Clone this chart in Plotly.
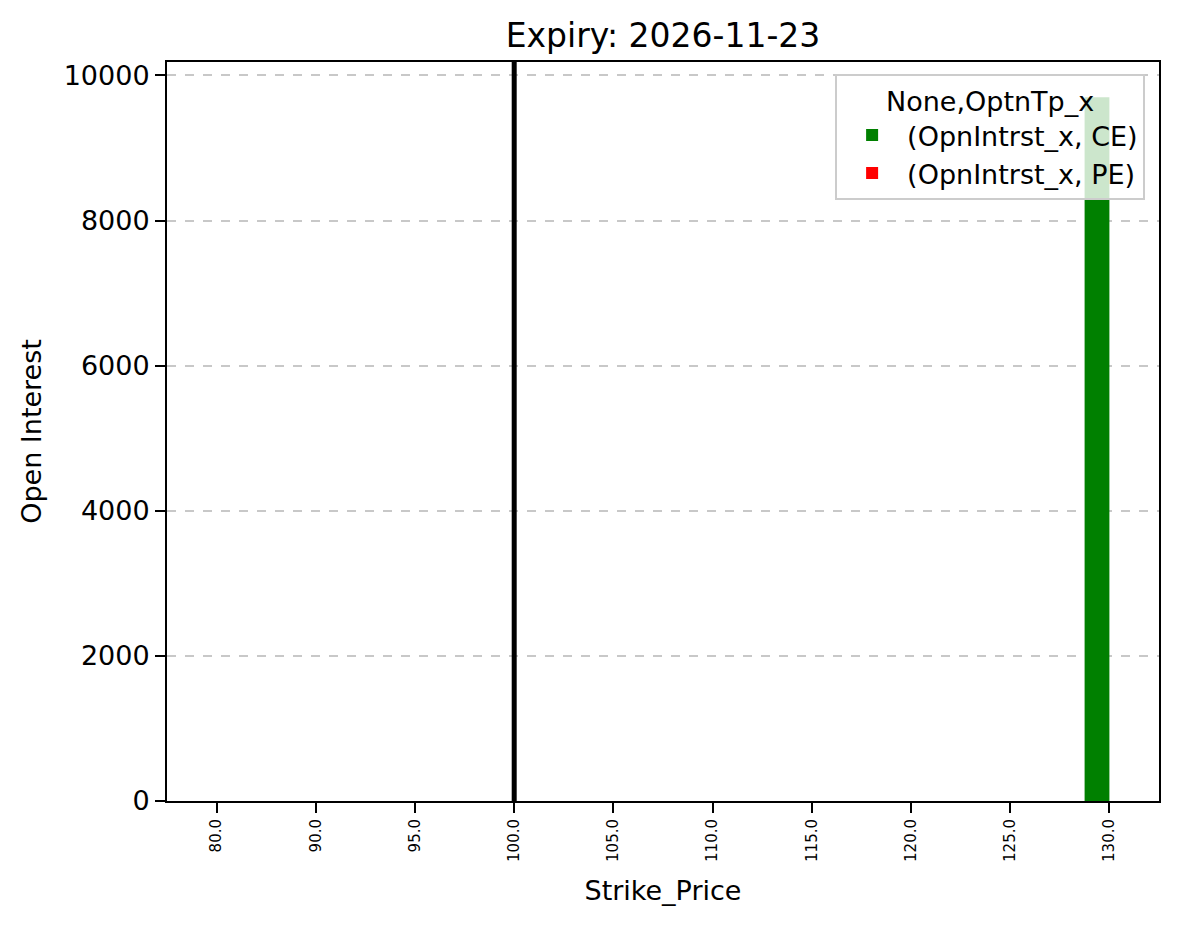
import plotly.graph_objects as go

# Strike prices (categorical x axis) and open interest per option type
strikes = [80.0, 90.0, 95.0, 100.0, 105.0, 110.0, 115.0, 120.0, 125.0, 130.0]
ce_oi = [0, 0, 0, 0, 0, 0, 0, 0, 0, 9700]
pe_oi = [0, 0, 0, 0, 0, 0, 0, 0, 0, 0]
spot_price = 100.0
expiry = "2026-11-23"
y_ticks = [0, 2000, 4000, 6000, 8000, 10000]

tick_labels = [f"{s:.1f}" for s in strikes]
idx = list(range(len(strikes)))
font_family = "DejaVu Sans, sans-serif"

# page body has an 8px margin, so the figure is shrunk to fit the window
W, H = 1171, 920

fig = go.Figure()

fig.add_trace(
    go.Bar(
        x=idx,
        y=ce_oi,
        name="(OpnIntrst_x, CE)",
        marker=dict(color="green", line=dict(width=0)),
        width=0.25,
        offset=-0.25,
    )
)
fig.add_trace(
    go.Bar(
        x=idx,
        y=pe_oi,
        name="(OpnIntrst_x, PE)",
        marker=dict(color="red", line=dict(width=0)),
        width=0.25,
        offset=0,
    )
)

# spot price marker
fig.add_shape(
    type="line",
    xref="x",
    yref="paper",
    x0=strikes.index(spot_price),
    x1=strikes.index(spot_price),
    y0=0,
    y1=1,
    line=dict(color="black", width=5),
    layer="above",
)

ymax = max(ce_oi + pe_oi) * 1.05

fig.update_layout(
    width=W,
    height=H,
    margin=dict(l=159, r=20, t=54, b=127),
    paper_bgcolor="white",
    plot_bgcolor="white",
    font=dict(family=font_family, size=27, color="black"),
    title=dict(
        text=f"Expiry: {expiry}",
        x=(159 + W - 20) / 2 / W,
        xanchor="center",
        y=1 - 27 / H,
        yanchor="middle",
        font=dict(size=33),
    ),
    xaxis=dict(
        range=[-0.5, len(strikes) - 0.5],
        tickmode="array",
        tickvals=idx,
        ticktext=tick_labels,
        tickangle=-90,
        tickfont=dict(size=15),
        ticks="outside",
        ticklen=10,
        tickwidth=2,
        tickcolor="black",
        showline=True,
        linecolor="black",
        linewidth=2,
        mirror=True,
        showgrid=False,
        zeroline=False,
        title=dict(text="Strike_Price", font=dict(size=27), standoff=20),
    ),
    yaxis=dict(
        range=[0, ymax],
        tickmode="array",
        tickvals=y_ticks,
        ticktext=[str(v) for v in y_ticks],
        ticks="outside",
        ticklen=10,
        tickwidth=2,
        tickcolor="black",
        showline=True,
        linecolor="black",
        linewidth=2,
        mirror=True,
        showgrid=True,
        gridcolor="rgba(176,176,176,0.7)",
        griddash="dash",
        gridwidth=1.5,
        zeroline=False,
        title=dict(text="Open Interest", font=dict(size=27), standoff=14),
    ),
    legend=dict(
        title=dict(text="None,OptnTp_x", side="top center", font=dict(size=27)),
        x=0.986,
        xanchor="right",
        y=0.984,
        yanchor="top",
        bgcolor="rgba(255,255,255,0.8)",
        bordercolor="#cccccc",
        borderwidth=2,
        font=dict(size=27),
        itemwidth=60,
        traceorder="normal",
    ),
    showlegend=True,
)

fig.write_html("out.html")
